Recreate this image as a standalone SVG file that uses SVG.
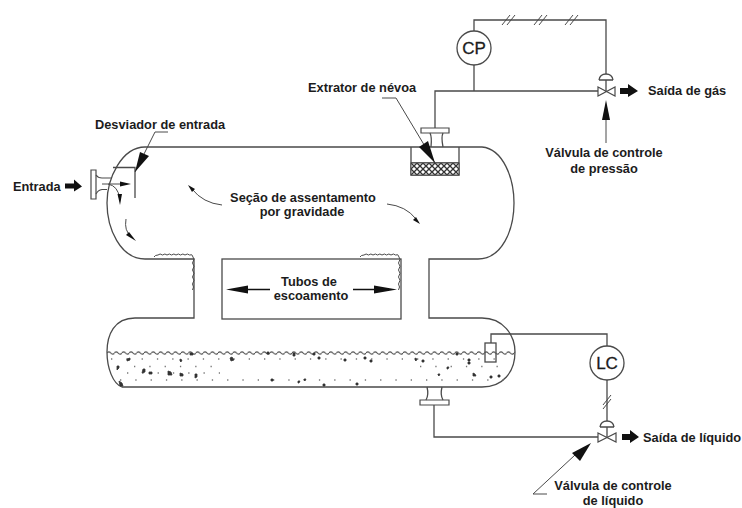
<svg xmlns="http://www.w3.org/2000/svg" width="742" height="508" viewBox="0 0 742 508">
<style>
text{font-family:"Liberation Sans",Arial,sans-serif;font-size:12.800px;font-weight:bold;fill:#1c1c1c}
.m{text-anchor:middle}
.i{font-size:17px;font-weight:normal;text-anchor:middle;stroke:#1c1c1c;stroke-width:.3}
.l{fill:none;stroke:#4a4a4a;stroke-width:1.3}
.t{fill:none;stroke:#4a4a4a;stroke-width:1}
.w{fill:#fff;stroke:#4a4a4a;stroke-width:1.2}
.k{fill:#111;stroke:none}
.s{fill:#333;stroke:#333;stroke-width:.8;stroke-linejoin:round}
.d{fill:none;stroke:#777;stroke-width:1.300;stroke-dasharray:1.300 14}
</style>
<defs>
<pattern id="mesh" width="6" height="6" patternUnits="userSpaceOnUse" x="411" y="163">
<rect width="6" height="6" fill="#fff"/>
<path d="M0 0L6 6M6 0L0 6" stroke="#333" stroke-width="1.300"/>
</pattern>
<pattern id="wave" width="7.400" height="6" patternUnits="userSpaceOnUse" x="107" y="350">
<path d="M0 3Q1.850 .6 3.700 3T7.400 3" fill="none" stroke="#555" stroke-width="1.200"/>
</pattern>
</defs>
<rect width="742" height="508" fill="#fff"/>
<g id="vessel">
<path class="l" d="M145 147H482C503 149 514 178 514 203C514 230 502 259 478 259H429V318H482C503 318 515 335 515 352C515 372 503 387 482 387H122C113 384 107 368 107 352C107 335 114 318 135 318H194V259H145C120 259 107 228 107 203C107 178 122 147 145 147Z"/>
<rect x="107" y="350" width="408" height="6" fill="url(#wave)"/>
<path class="d" d="M111 359H505"/>
<path class="d" d="M134 366.500H225"/>
<path class="d" d="M127 373H220"/>
<path class="d" d="M120 380H510"/>
<path class="d" d="M420 366.500H500"/>
<path class="s" d="M127 359l3-1 0 2-3 1zM117 366l2 0 0 2-2 2zM143 369l2 0 0 3-3 1zM149 372l3 0 0 2-3 0zM168 371l3 1 1 3-4 0zM180 373l3 1 0 2-3 0zM195 374l2 0 0 3-2 1zM180 359l2 1-1 2-1-1zM190 353l3 0 0 2-3 0zM230 358l2-1 2 3-3 1zM267 352l2 0 0 2-2 0zM293 353l2 0 0 3-2 0zM313 353l2 0 0 2-2 0zM318 357l2 0 0 2-2 0zM344 359l2 0 0 2-2 0zM364 357l2 0 0 2-2 0zM370 360l2 0 0 2-2 0zM271 379l2 0 0 2-2 0zM298 381l2 0-1 2-1 0zM304 379l2 0-1 2-1-1zM323 384l2 0 0 2-2 0zM356 383l2 0 0 2-2 0zM119 381l3 2 1 3-3 0zM415 358l2 1-1 2-1-1zM422 360l2 0 0 2-2 0zM456 353l2 0 0 2-2 0zM468 359l2 0 0 2-2 0zM447 367l2 0-1 2-1 0zM438 374l2 0-1 2-1-1zM473 373l2 1 1 2-3 0zM468 362l2 0 0 2-2 0zM490 376l2 0 0 2-2 0zM498 375l2 0 0 2-2 0z"/>
</g>
<g id="tubos">
<rect class="l" x="222" y="259" width="179" height="60"/>
<path class="t" d="M154 257q1-2 4-2q2-2 4.500 0q2.500-2 4.500 0q2.500-2 4.500 0q2.500-2 4.500 0q2.500-2 4.500 0q2.500-2 4.500 0q2.500-2 4.500 0q3-1 3 1q3 3 0 7q3 3 0 7q3 3 0 7q3 3 0 7q2 3 0 6"/>
<path class="t" d="M360 257q1-2 4-2q2-2 4.500 0q2.500-2 4.500 0q2.500-2 4.500 0q2.500-2 4.500 0q2.500-2 4.500 0q2.500-2 4.500 0q2.500-2 4.500 0q3-1 3 1q3 3 0 7q3 3 0 7q3 3 0 7q3 3 0 7q2 3 0 6"/>
<path class="k" d="M226 289.500L248 285.500V288.800H270V290.200H248V293.500Z"/>
<path class="k" d="M397 289.500L374 285.500V288.800H353V290.200H374V293.500Z"/>
<text class="m" x="309" y="286">Tubos de</text>
<text class="m" x="311" y="300">escoamento</text>
</g>
<g id="entrada">
<path class="w" d="M91 170H96V199H91Z"/>
<path class="w" d="M96 175Q98 178 102 178H111M96 194Q98 190 102 189.500H107"/>
<text x="13" y="191">Entrada</text>
<path class="k" d="M65 183.500H74V179.500L82 186.500L74 191.500V188.500H65Z"/>
<path class="l" d="M113 167.500H135V198"/>
<path class="t" d="M102 184H124"/>
<path class="k" d="M131 184L120 181.500V186.500Z"/>
<path class="t" d="M108 184Q118 186 119.500 198"/>
<path class="k" d="M120 205L117.500 194 122 194Z"/>
<path class="t" d="M126 219Q124 231 131 236"/>
<path class="k" d="M136 241L126 235 129 232Z"/>
</g>
<g id="desviador">
<text x="95" y="129">Desviador de entrada</text>
<path class="t" d="M168 132H155L135 172"/>
<path class="k" d="M135 172L140 152 149 156Z"/>
</g>
<g id="secao">
<text class="m" x="303" y="202">Seção de assentamento</text>
<text class="m" x="302" y="216">por gravidade</text>
<path class="t" d="M222 205Q203 203 192 189"/>
<path class="k" d="M188 185L195 189 192 192Z"/>
<path class="t" d="M387 204Q406 206 416 219"/>
<path class="k" d="M420 224L413 220 416 217Z"/>
</g>
<g id="extrator">
<path class="l" d="M411 147V175H459V147M411 163H459"/>
<rect x="411" y="163" width="48" height="12" fill="url(#mesh)" stroke="#444"/>
<text x="308" y="92">Extrator de névoa</text>
<path class="t" d="M382 98H396L435 163"/>
<path class="k" d="M435 163L419 147 428 141Z"/>
<path class="w" d="M421 128H449V133H421Z"/>
<path class="l" d="M430 133Q432 137 431 147M443 133Q441 137 443 147"/>
</g>
<g id="CP">
<circle class="l" cx="474" cy="48" r="17"/>
<text class="i" x="474" y="54">CP</text>
</g>
<g id="LC">
<circle class="l" cx="607" cy="363" r="17"/>
<text class="i" x="607" y="369">LC</text>
</g>
<g id="flutuador">
<rect class="l" x="485" y="343" width="11" height="19"/>
</g>
<g id="valvula-gas">
<path class="w" d="M598 87L615 96V87L598 96Z"/>
<path class="l" d="M599 80H613M599 80Q600 74 606 74T613 80M606 80V91"/>
<path class="k" d="M620 88H628V84L638 91L628 97V94H620Z"/>
<text x="648" y="95">Saída de gás</text>
<path class="t" d="M606 143V120"/>
<path class="k" d="M606 100L602 120H610Z"/>
<text class="m" x="604" y="157">Válvula de controle</text>
<text class="m" x="604" y="173">de pressão</text>
</g>
<g id="valvula-liquido">
<path class="w" d="M598 433L616 442V433L598 442Z"/>
<path class="l" d="M600 427H614M600 427Q601 421 607 421T614 427M607 427V437"/>
<path class="k" d="M622 434H630V430L639 437L630 443V440H622Z"/>
<text x="643" y="442">Saída de líquido</text>
<path class="t" d="M547 494H533L575 455"/>
<path class="k" d="M591 443L580 461 572 453Z"/>
<text class="m" x="613" y="490">Válvula de controle</text>
<text class="m" x="613" y="505">de líquido</text>
</g>
<g id="saida-liquido">
<path class="w" d="M420 400H449V405H420Z"/>
<path class="l" d="M427 387Q429 395 426 400M442 387Q440 395 443 400"/>
</g>
<g id="conectores">
<path class="l" d="M435 128V91H598M474 65V91M474 31V20H606V74"/>
<path class="l" d="M491 343V334H607V346M607 380V421M434 405V437H598"/>
<path class="t" d="M502 25L510 15M507 25L515 15M534 25L542 15M539 25L547 15M565 25L573 15M570 25L578 15"/>
<path class="t" d="M603 405L611 395M603 409L611 399"/>
</g>
</svg>
